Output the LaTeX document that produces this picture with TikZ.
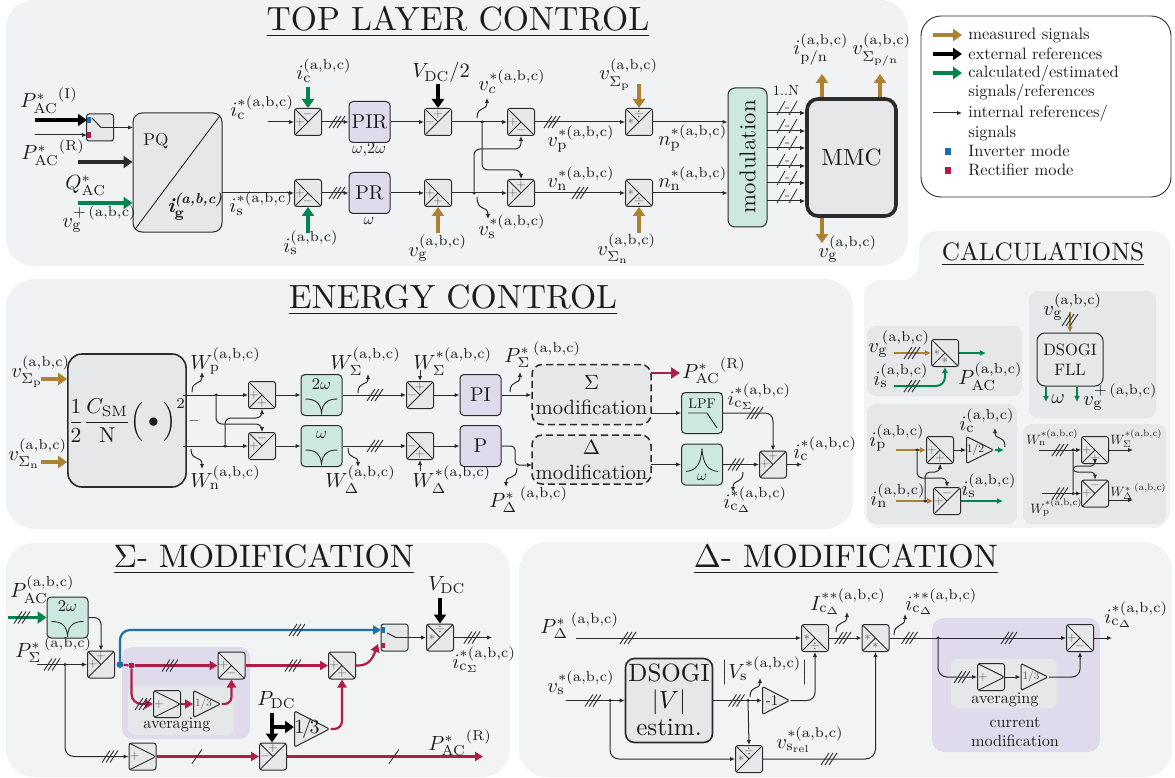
\documentclass[tikz,border=0pt]{standalone}
\usepackage{amsmath}
\usetikzlibrary{arrows.meta,shapes.geometric}

\definecolor{panelcol}{HTML}{F1F2F4}
\definecolor{panelbcol}{HTML}{F2F4F4}
\definecolor{blockcol}{HTML}{E6E7E8}
\definecolor{filtcol}{HTML}{CDE8E0}
\definecolor{ctrlcol}{HTML}{E0DBEC}
\definecolor{measgold}{HTML}{AE8131}
\definecolor{calcgreen}{HTML}{00854F}
\definecolor{rectred}{HTML}{B11C48}
\definecolor{invblue}{HTML}{1E6FA5}
\definecolor{inkcol}{HTML}{2B2B2B}
\definecolor{textcol}{HTML}{1C1C1C}

\newcommand{\abc}{(\mathrm{a,b,c})}
\newcommand{\rmm}[1]{\mathrm{#1}}

\tikzset{
  blk/.style={draw=inkcol,fill=blockcol,line width=1pt,rounded corners=2.5pt,inner sep=0pt,minimum size=27pt},
  sumup/.style={blk,path picture={\draw[inkcol,line width=.9pt] (path picture bounding box.south west)--(path picture bounding box.north east) (path picture bounding box.north west)--(path picture bounding box.center);}},
  sumdn/.style={blk,path picture={\draw[inkcol,line width=.9pt] (path picture bounding box.north west)--(path picture bounding box.south east) (path picture bounding box.south west)--(path picture bounding box.center);}},
  avgblk/.style={blk,path picture={\draw[inkcol,line width=.9pt] (path picture bounding box.north west)--(path picture bounding box.east)--(path picture bounding box.south west);}},
  sign/.style={inner sep=0pt,text=black!65,scale=1.25},
  blktxt/.style={inner sep=0pt,text=textcol,scale=#1},
  ctrl/.style={draw=inkcol,fill=ctrlcol,line width=1pt,rounded corners=4pt,minimum size=41pt,inner sep=0pt,text=textcol},
  filt/.style={draw=inkcol,fill=filtcol,line width=1pt,rounded corners=4pt,minimum size=41pt,inner sep=0pt},
  gain/.style={draw=inkcol,fill=blockcol,line width=1pt,isosceles triangle,isosceles triangle apex angle=50,isosceles triangle stretches,inner sep=0pt,minimum width=27pt,minimum height=27pt,rounded corners=1.5pt,anchor=west},
  modblk/.style={draw=inkcol,fill=blockcol,dashed,dash pattern=on 7pt off 4pt,line width=1.5pt,rounded corners=10pt,inner sep=0pt,align=center},
  wire/.style={draw=inkcol,line width=1pt,-{Latex[length=5pt,width=4.5pt]}},
  plainwire/.style={draw=inkcol,line width=1pt},
  meas/.style={draw=measgold,line width=3.4pt,-{Triangle[length=9pt,width=12pt]}},
  extr/.style={draw=black,line width=3.4pt,-{Triangle[length=9pt,width=12pt]}},
  extg/.style={draw=inkcol,line width=3.4pt,-{Triangle[length=9pt,width=12pt]}},
  calc/.style={draw=calcgreen,line width=3.4pt,-{Triangle[length=9pt,width=12pt]}},
  measthin/.style={draw=measgold,line width=2pt,-{Latex[length=6pt,width=6pt]}},
  calcthin/.style={draw=calcgreen,line width=2pt,-{Latex[length=6pt,width=6pt]}},
  redwire/.style={draw=rectred,line width=2.2pt,-{Triangle[length=8pt,width=9pt]}},
  bluewire/.style={draw=invblue,line width=2.2pt,-{Triangle[length=8pt,width=9pt]}},
  dot/.style={circle,fill=inkcol,inner sep=0pt,minimum size=3.5pt},
  lab/.style={anchor=base west,inner sep=0pt,text=textcol,scale=2.05},
  labs/.style={lab,scale=.66},
  capt/.style={inner sep=0pt,text=textcol,scale=1.62,align=center},
  title/.style={inner sep=0pt,text=textcol,scale=3.36},
  titles/.style={inner sep=0pt,text=textcol,scale=2.52},
  legtxt/.style={anchor=west,inner sep=0pt,text=textcol,scale=1.65},
  pics/three/.style={code={\draw[inkcol,line width=.9pt] (-8,6)--(0,-6) (-4,6)--(4,-6) (0,6)--(8,-6);}},
  pics/one/.style={code={\draw[inkcol,line width=.9pt] (-5,7)--(5,-7);}},
  pics/npwm/.style={code={\draw[inkcol,line width=.8pt] (-10,2)--(-2,-12) (2,2)--(10,-12) (-2,-5)--(2,-5);}},
  pics/notch/.style={code={\draw[inkcol,line width=.9pt] (-16,4) .. controls (-6,4) and (-1,8) .. (0,18) .. controls (1,8) and (6,4) .. (16,4);}},
  pics/peak/.style={code={\draw[inkcol,line width=.9pt] (-16,7) .. controls (-6,6) and (-1,0) .. (0,-16) .. controls (1,0) and (6,6) .. (16,7);}},
}

% summing blocks: name, position, left sign, other sign
\newcommand{\sumU}[4]{\node[sumup] (#1) at (#2) {};
  \node[sign] (#1l) at ([xshift=-8pt]#1.center) {#3};
  \node[sign] (#1o) at ([yshift=8pt]#1.center) {#4};}
\newcommand{\sumD}[4]{\node[sumdn] (#1) at (#2) {};
  \node[sign] (#1l) at ([xshift=-8pt]#1.center) {#3};
  \node[sign] (#1o) at ([yshift=-8pt]#1.center) {#4};}

\begin{document}
\begin{tikzpicture}[x=1pt,y=-1pt]

    \useasboundingbox (0,0) rectangle (1175,778);

    % panels
    \fill[panelcol,rounded corners=28pt] (6,0) rectangle (908,266);
    \fill[panelcol,rounded corners=28pt] (6,279) rectangle (853,529);
    \fill[panelbcol,rounded corners=17pt] (864,528) -- (864,280) -- (919,280) -- (919,231) -- (1170,231) -- (1170,528) -- cycle;
    \fill[panelbcol,rounded corners=28pt] (6,543) rectangle (510,777);
    \fill[panelbcol,rounded corners=28pt] (519,542) rectangle (1172,777);
    \fill[blockcol,rounded corners=9pt] (867,326) rectangle (1022,396);
    \fill[blockcol,rounded corners=9pt] (1029,291) rectangle (1156,418);
    \fill[blockcol,rounded corners=9pt] (867,404) rectangle (1017,524);
    \fill[blockcol,rounded corners=9pt] (1023,424) rectangle (1166,524);
    \fill[ctrlcol,rounded corners=10pt] (122,647) rectangle (250,739);
    \fill[blockcol,rounded corners=6pt] (128,686) rectangle (234,735);
    \fill[ctrlcol,rounded corners=12pt] (932,618) rectangle (1100,752);
    \fill[blockcol,rounded corners=6pt] (951,659) rectangle (1057,708);

    % titles
    \node[title] (toptitle) at (458,22) {\underline{TOP LAYER CONTROL}};
    \node[title] (engtitle) at (453,300) {\underline{ENERGY CONTROL}};
    \node[titles] (calctitle) at (1043,254) {\underline{CALCULATIONS}};
    \node[title,scale=.97] (sigtitle) at (264,559) {\underline{$\Sigma$- MODIFICATION}};
    \node[title,scale=.97] (deltitle) at (846,559) {\underline{$\Delta$- MODIFICATION}};

    %%%%%%%%%%%%%%%%%%%%%%%%%%%%%%%%%%%%%%%%%%%%%%%%%%%%%%

    % legend
    \draw[inkcol,line width=.9pt,fill=white,rounded corners=20pt] (921,16) rectangle (1171,197);
    \coordinate (lega) at (933,35); \coordinate (legaa) at (962,35);
    \coordinate (legb) at (933,54); \coordinate (legbb) at (962,54);
    \coordinate (legc) at (933,73); \coordinate (legcc) at (962,73);
    \coordinate (legd) at (933,113); \coordinate (legdd) at (962,113);
    \draw[meas] (lega) -- (legaa);
    \draw[extr] (legb) -- (legbb);
    \draw[calc] (legc) -- (legcc);
    \draw[wire] (legd) -- (legdd);
    \node[legtxt] (legt1) at (968,35) {measured signals};
    \node[legtxt] (legt2) at (968,54) {external references};
    \node[legtxt] (legt3) at (968,73) {calculated/estimated};
    \node[legtxt] (legt4) at (968,92) {signals/references};
    \node[legtxt] (legt5) at (968,113) {internal references/};
    \node[legtxt] (legt6) at (968,133) {signals};
    \node[legtxt] (legt7) at (968,151) {Inverter mode};
    \node[legtxt] (legt8) at (968,170) {Rectifier mode};
    \fill[invblue] (945,148) rectangle (951,155);
    \fill[rectred] (945,167) rectangle (951,174);

    %%%%%%%%%%%%%%%%%%%%%%%%%%%%%%%%%%%%%%%%%%%%%%%%%%%%%%

    % mode switch
    \node[blk] (sw) at (100,127.5) {};
    \fill[invblue] (87,117) rectangle (91,123);
    \fill[rectred] (87,132) rectangle (91,138);
    \draw[plainwire] (92,118) -- (101,127.5);
    \coordinate (swin) at (101,127.5);
    \coordinate (pacia) at (35,120); \coordinate (paciz) at (87,120);
    \coordinate (pacra) at (35,135); \coordinate (pacrz) at (87,135);
    \draw[extr] (pacia) -- (paciz);
    \draw[wire] (pacra) -- (pacrz);
    \node[lab] (paci) at (20,108) {${P_{\rmm{AC}}^{*}}^{(\rmm{I})}$};
    \node[lab] (pacr) at (21,160) {${P_{\rmm{AC}}^{*}}^{(\rmm{R})}$};

    % power to current references
    \node[draw=inkcol,fill=blockcol,line width=1pt,rounded corners=9pt,minimum width=89pt,minimum height=119pt,inner sep=0pt,
      path picture={\draw[inkcol,line width=.9pt] (path picture bounding box.south west)--(path picture bounding box.north east);}] (pq) at (177.5,172.5) {};
    \node[lab,scale=.84] (pqt) at (143,146) {PQ};
    \node[lab,font=\bfseries\itshape] (ig) at (167,212) {$\mbox{i}_{\mathbf{g}}^{\mbox{\fontsize{7}{7}\selectfont (a,b,c)}}$};
    \draw[wire] (swin) -- (133,127.5) coordinate (pqin);
    \coordinate (qa) at (78,162); \coordinate (va) at (78,203);
    \draw[extg] (qa) -- (qa -| pq.west);
    \draw[calc] (va) -- (va -| pq.west);
    \node[lab] (qac) at (65,190) {$Q_{\rmm{AC}}^{*}$};
    \node[lab] (vgp) at (62,227) {$v_{\rmm{g}}^{+\,\abc}$};

    % current loops
    \sumU{sc}{308,122}{$+$}{$-$}
    \sumD{ss}{308,193}{$+$}{$-$}
    \coordinate (icin) at (268,122);
    \coordinate (isin) at (222,193);
    \draw[wire] (icin) -- (sc.west);
    \draw[wire] (isin) -- (ss.west);
    \node[lab] (icst) at (230,117) {$i_{\rmm{c}}^{*\abc}$};
    \node[lab] (isst) at (229,213) {$i_{\rmm{s}}^{*\abc}$};
    \coordinate (icm) at (308,87); \coordinate (ism) at (308,233);
    \draw[calc] (icm) -- (sc.north);
    \draw[calc] (ism) -- (ss.south);
    \node[lab] (icl) at (296,80) {$i_{\rmm{c}}^{\abc}$};
    \node[lab] (isl) at (283,252) {$i_{\rmm{s}}^{\abc}$};
    \node[ctrl] (pir) at (369.5,122) {\scalebox{2}{PIR}};
    \node[ctrl] (pr) at (369.5,193) {\scalebox{2}{PR}};
    \node[capt] (pirt) at (369,150) {$\omega$,2$\omega$};
    \node[capt] (prt) at (369,221) {$\omega$};
    \draw[wire] (sc.east) -- (pir.west);
    \draw[wire] (ss.east) -- (pr.west);
    \pic at (337,122) {three};
    \pic at (337,193) {three};

    % feed forward
    \sumU{fc}{438,122}{$-$}{$+$}
    \sumD{fs}{438,193}{$+$}{$+$}
    \draw[wire] (pir.east) -- (fc.west);
    \draw[wire] (pr.east) -- (fs.west);
    \coordinate (vdc2) at (438,84); \coordinate (vgm) at (438,233);
    \draw[extr] (vdc2) -- (fc.north);
    \draw[meas] (vgm) -- (fs.south);
    \node[lab] (vdcl) at (412,78) {$V_{\rmm{DC}}/2$};
    \node[lab] (vgl) at (408,256) {$v_{\rmm{g}}^{\abc}$};

    % arm voltages
    \sumD{vp}{521,122}{$+$}{$-$}
    \sumU{vn}{521,193}{$+$}{$+$}
    \draw[wire] (fc.east) -- (vp.west);
    \draw[wire] (fs.east) -- (vn.west);
    \node[dot] (ja) at (482,122) {};
    \node[dot] (jb) at (474,193) {};
    \coordinate (kb) at (474,149);
    \coordinate (ka) at (482,170);
    \draw[wire,rounded corners=6pt] (ja) -- (ka) -| (vn.north);
    \draw[wire,rounded corners=6pt] (jb) -- (kb) -| (vp.south);
    \coordinate (vcta) at (477,118); \coordinate (vctb) at (487,98);
    \coordinate (vsta) at (477,197); \coordinate (vstb) at (488,219);
    \draw[wire] (vcta) .. controls (477,105) and (487,112) .. (vctb);
    \draw[wire] (vsta) .. controls (477,212) and (488,205) .. (vstb);
    \node[lab] (vcst) at (478,91) {$v_{c}^{*\abc}$};
    \node[lab] (vsst) at (478,236) {$v_{\rmm{s}}^{*\abc}$};

    % insertion indices
    \sumU{np}{639,122}{$*$}{$\div$}
    \sumD{nn}{639,193}{$*$}{$\div$}
    \draw[wire] (vp.east) -- (np.west);
    \draw[wire] (vn.east) -- (nn.west);
    \pic at (552,122) {three};
    \pic at (580,193) {three};
    \coordinate (vsp) at (639,84); \coordinate (vsn) at (639,233);
    \draw[meas] (vsp) -- (np.north);
    \draw[meas] (vsn) -- (nn.south);
    \node[lab] (vspl) at (599,80) {$v_{\Sigma_{\rmm{p}}}^{\abc}$};
    \node[lab] (vsnl) at (597,255) {$v_{\Sigma_{\rmm{n}}}^{\abc}$};
    \node[lab] (vpst) at (547,147) {$v_{\rmm{p}}^{*\abc}$};
    \node[lab] (vnst) at (547,188) {$v_{\rmm{n}}^{*\abc}$};
    \node[lab] (npst) at (658,146) {$n_{\rmm{p}}^{*\abc}$};
    \node[lab] (nnst) at (658,188) {$n_{\rmm{n}}^{*\abc}$};

    % modulation
    \node[draw=inkcol,fill=filtcol,line width=1pt,rounded corners=7pt,minimum width=39pt,minimum height=139pt,inner sep=0pt] (mod) at (747.5,157.5) {};
    \node[rotate=90,blktxt=2.28] (modt) at (747.5,157) {modulation};
    \draw[wire] (np.east) -- (np.east -| mod.west);
    \draw[wire] (nn.east) -- (nn.east -| mod.west);

    % converter
    \node[draw=inkcol,fill=blockcol,line width=3.6pt,rounded corners=11pt,minimum width=89pt,minimum height=117pt,inner sep=0pt,text=textcol] (mmc) at (851.5,157.5) {\scalebox{2.35}{MMC}};
    \node[blktxt=1.45] (oneN) at (786,91) {1..N};
    \coordinate (mo1) at (767,113);
    \coordinate (mo2) at (767,131);
    \coordinate (mo3) at (767,148);
    \coordinate (mo4) at (767,166);
    \coordinate (mo5) at (767,183);
    \coordinate (mo6) at (767,201);
    \draw[wire] (mo1) -- (mo1 -| mmc.west); \pic at (787,113) {npwm};
    \draw[wire] (mo2) -- (mo2 -| mmc.west); \pic at (787,131) {npwm};
    \draw[wire] (mo3) -- (mo3 -| mmc.west); \pic at (787,148) {npwm};
    \draw[wire] (mo4) -- (mo4 -| mmc.west); \pic at (787,166) {npwm};
    \draw[wire] (mo5) -- (mo5 -| mmc.west); \pic at (787,183) {npwm};
    \draw[wire] (mo6) -- (mo6 -| mmc.west); \pic at (787,201) {npwm};
    \coordinate (outa) at (822,74); \coordinate (outb) at (880,74); \coordinate (outc) at (822,243);
    \draw[meas] (outa |- mmc.north) -- (outa);
    \draw[meas] (outb |- mmc.north) -- (outb);
    \draw[meas] (outc |- mmc.south) -- (outc);
    \node[lab] (ipnl) at (793,55) {$i_{\rmm{p/n}}^{\abc}$};
    \node[lab] (vspnl) at (852,55) {$v_{\Sigma_{\rmm{p/n}}}^{\abc}$};
    \node[lab] (vgr) at (818,257) {$v_{\rmm{g}}^{\abc}$};

    %%%%%%%%%%%%%%%%%%%%%%%%%%%%%%%%%%%%%%%%%%%%%%%%%%%%%%

    % arm energies
    \node[draw=inkcol,fill=blockcol,line width=1.6pt,rounded corners=14pt,minimum width=112pt,minimum height=133pt,inner sep=0pt,text=textcol] (wcalc) at (127,420.5) {\scalebox{2.15}{$\dfrac{1}{2}\dfrac{C_{\rmm{SM}}}{\rmm{N}}\Big(\bullet\Big)^{2}$}};
    \coordinate (evp) at (41,379); \coordinate (evn) at (41,462);
    \draw[meas] (evp) -- (evp -| wcalc.west);
    \draw[meas] (evn) -- (evn -| wcalc.west);
    \node[lab] (evpl) at (11,377) {$v_{\Sigma_{\rmm{p}}}^{\abc}$};
    \node[lab] (evnl) at (8,460) {$v_{\Sigma_{\rmm{n}}}^{\abc}$};

    % sum and difference of energies
    \sumD{wa}{262,395}{$+$}{$+$}
    \sumU{wb}{262,446}{$+$}{$-$}
    \coordinate (wpout) at (183,395); \coordinate (wnout) at (183,446);
    \draw[wire] (wpout) -- (wa.west);
    \draw[wire] (wnout) -- (wb.west);
    \node[dot] (jc) at (216,395) {};
    \node[dot] (jd) at (225,446) {};
    \coordinate (kc) at (216,424);
    \coordinate (kd) at (225,418);
    \draw[wire,rounded corners=6pt] (jc) -- (kc) -| (wb.north);
    \draw[wire,rounded corners=6pt] (jd) -- (kd) -| (wa.south);
    \node[lab,scale=.7] (wminus) at (188,424) {$-$};
    \coordinate (wpa) at (192,392); \coordinate (wpb) at (202,372);
    \coordinate (wna) at (191,449); \coordinate (wnb) at (202,469);
    \draw[wire] (wpa) .. controls (192,379) and (202,386) .. (wpb);
    \draw[wire] (wna) .. controls (191,462) and (202,455) .. (wnb);
    \node[lab] (wpl) at (190,369) {$W_{\rmm{p}}^{\abc}$};
    \node[lab] (wnl) at (190,487) {$W_{\rmm{n}}^{\abc}$};

    % energy filters
    \node[filt] (ftwo) at (321.5,395) {};
    \node[filt] (fone) at (321.5,446) {};
    \pic at (321.5,395) {notch};
    \pic at (321.5,446) {notch};
    \node[blktxt=1.65] (ftwot) at (321.5,384) {2$\omega$};
    \node[blktxt=1.65] (fonet) at (321.5,435) {$\omega$};
    \draw[wire] (wa.east) -- (ftwo.west);
    \draw[wire] (wb.east) -- (fone.west);

    % energy controllers
    \sumU{ea}{420,395}{$-$}{$+$}
    \sumD{eb}{420,446}{$-$}{$+$}
    \draw[wire] (ftwo.east) -- (ea.west);
    \draw[wire] (fone.east) -- (eb.west);
    \pic at (375,395) {three};
    \pic at (375,446) {three};
    \coordinate (wsa) at (358,393); \coordinate (wsb) at (368,374);
    \coordinate (wda) at (348,448); \coordinate (wdb) at (358,467);
    \draw[wire] (wsa) .. controls (358,380) and (368,387) .. (wsb);
    \draw[wire] (wda) .. controls (348,461) and (358,454) .. (wdb);
    \node[lab] (wsl) at (330,369) {$W_{\Sigma}^{\abc}$};
    \node[lab] (wdl) at (325,487) {$W_{\Delta}^{\abc}$};
    \coordinate (wsr) at (420,370); \coordinate (wdr) at (420,471);
    \draw[wire] (wsr) -- (ea.north);
    \draw[wire] (wdr) -- (eb.south);
    \node[lab] (wsrl) at (413,369) {$W_{\Sigma}^{*\abc}$};
    \node[lab] (wdrl) at (412,487) {$W_{\Delta}^{*\abc}$};
    \node[ctrl] (pi) at (480.5,395) {\scalebox{2}{PI}};
    \node[ctrl] (pp) at (480.5,446) {\scalebox{2}{P}};
    \draw[wire] (ea.east) -- (pi.west);
    \draw[wire] (eb.east) -- (pp.west);

    % modification blocks
    \node[modblk,minimum width=119pt,minimum height=60pt] (smod) at (591.5,394.5) {};
    \node[modblk,minimum width=119pt,minimum height=49pt] (dmod) at (591.5,459.5) {};
    \node[blktxt=2.06,align=center] (smodt) at (591.5,395) {$\Sigma$\\modification};
    \node[blktxt=2.06,align=center] (dmodt) at (591.5,460) {$\Delta$\\modification};
    \draw[wire] (pi.east) -- (pi.east -| smod.west);
    \coordinate (dmin) at (532,465);
    \draw[wire,rounded corners=4pt] (pp.east) -- (515,446) |- (dmin);
    \coordinate (psa) at (510,392); \coordinate (psb) at (520,372);
    \coordinate (pda) at (517,468); \coordinate (pdb) at (506,487);
    \draw[wire] (psa) .. controls (510,379) and (520,386) .. (psb);
    \draw[wire] (pda) .. controls (517,481) and (506,474) .. (pdb);
    \node[lab] (psl) at (504,362) {${P_{\Sigma}^{*}}^{\,\abc}$};
    \node[lab] (pdl) at (489,507) {${P_{\Delta}^{*}}^{\,\abc}$};

    % circulating current references
    \coordinate (smr) at (651,373); \coordinate (smrz) at (680,373);
    \draw[redwire,line width=2.4pt,-{Triangle[length=9pt,width=11pt]}] (smr) -- (smrz);
    \node[lab] (pacrr) at (682,378) {${P_{\rmm{AC}}^{*}}^{(\rmm{R})}$};
    \node[filt] (lpf) at (702,413) {};
    \node[filt] (fres) at (702,464.5) {};
    \node[blktxt=1.4] (lpft) at (702,404) {LPF};
    \draw[inkcol,line width=.9pt] (688,413) -- (707,413) -- (717,428);
    \pic at (702,464.5) {peak};
    \node[blktxt=1.5] (frest) at (702,477) {$\omega$};
    \coordinate (smout) at (651,413); \coordinate (dmout) at (651,464.5);
    \draw[wire] (smout) -- (lpf.west);
    \draw[wire] (dmout) -- (fres.west);
    \sumU{cc}{773,464.5}{$+$}{$+$}
    \draw[wire,rounded corners=8pt] (lpf.east) -| (cc.north);
    \draw[wire] (fres.east) -- (cc.west);
    \pic at (755,413) {three};
    \pic at (736,464.5) {three};
    \coordinate (ica) at (743,472); \coordinate (icb) at (733,492);
    \draw[wire] (ica) .. controls (743,485) and (733,478) .. (icb);
    \coordinate (icout) at (802,464.5);
    \draw[wire] (cc.east) -- (icout);
    \node[lab] (icsl) at (727,405) {$i_{\rmm{c}_\Sigma}^{*\abc}$};
    \node[lab] (icdl) at (723,508) {$i_{\rmm{c}_\Delta}^{*\abc}$};
    \node[lab] (iccl) at (793,458) {$i_{\rmm{c}}^{*\abc}$};

    %%%%%%%%%%%%%%%%%%%%%%%%%%%%%%%%%%%%%%%%%%%%%%%%%%%%%%

    % AC power calculation
    \sumD{cp}{945,353}{$*$}{$*$}
    \coordinate (cva) at (894,353); \coordinate (cia) at (894,386); \coordinate (cpo) at (986,353);
    \draw[measthin] (cva) -- (cp.west);
    \draw[calcthin,rounded corners=9pt] (cia) -| (cp.south);
    \draw[calcthin] (cp.east) -- (cpo);
    \pic at (912,353) {three};
    \pic at (912,386) {three};
    \node[lab] (cvl) at (868,352) {$v_{\rmm{g}}^{\,\abc}$};
    \node[lab] (cil) at (873,385) {$i_{\rmm{s}}^{\abc}$};
    \node[lab] (cpl) at (958,384) {$P_{\rmm{AC}}^{\abc}$};

    % grid synchronisation
    \node[draw=inkcol,fill=blockcol,line width=1pt,rounded corners=8pt,minimum width=66pt,minimum height=53pt,inner sep=0pt] (fll) at (1070,359.5) {};
    \node[blktxt=1.65,align=center] (fllt) at (1070,360) {DSOGI\\FLL};
    \coordinate (fv) at (1070,312); \coordinate (fw) at (1046,402); \coordinate (fvo) at (1077,402);
    \draw[measthin] (fv) -- (fll.north);
    \pic at (1070,320) {three};
    \draw[calcthin] (fw |- fll.south) -- (fw);
    \draw[calcthin] (fvo |- fll.south) -- (fvo);
    \node[lab] (fvl) at (1043,315) {$v_{\rmm{g}}^{\abc}$};
    \node[lab] (fwl) at (1051,403) {$\omega$};
    \node[lab] (fvol) at (1083,405) {$v_{\rmm{g}}^{+\,\abc}$};

    % current decomposition
    \sumD{ca}{940,450}{$+$}{$+$}
    \sumU{cb}{947,501}{$+$}{$-$}
    \coordinate (cip) at (896,450); \coordinate (cin) at (896,501);
    \draw[measthin] (cip) -- (ca.west);
    \draw[measthin] (cin) -- (cb.west);
    \node[dot] (je) at (917,450) {};
    \node[dot] (jf) at (925,501) {};
    \coordinate (ke) at (917,478);
    \coordinate (kf) at (925,472);
    \draw[wire,rounded corners=5pt] (je) -- (ke) -| (cb.north);
    \draw[wire,rounded corners=5pt] (jf) -- (kf) -| (ca.south);
    \node[gain] (half) at (966,450) {};
    \node[blktxt=1.15] (halft) at (975.5,450) {1/2};
    \draw[wire] (ca.east) -- (half.west);
    \coordinate (halfo) at (1004,450); \coordinate (csa) at (1005,447); \coordinate (csb) at (995,428);
    \draw[calcthin] (half.east) -- (halfo);
    \draw[wire] (csa) .. controls (1005,434) and (995,441) .. (csb);
    \coordinate (cso) at (1003,501);
    \draw[calcthin] (cb.east) -- (cso);
    \node[lab] (ipl) at (869,446) {$i_{\rmm{p}}^{\abc}$};
    \node[lab] (inl) at (870,505) {$i_{\rmm{n}}^{\abc}$};
    \node[lab] (icll) at (959,430) {$i_{\rmm{c}}^{\abc}$};
    \node[lab] (isll) at (961,495) {$i_{\rmm{s}}^{\abc}$};

    % energy references
    \sumD{da}{1095,450}{$+$}{$+$}
    \sumU{db}{1095,493.5}{$+$}{$-$}
    \coordinate (dwn) at (1039,450); \coordinate (dwp) at (1042,493.5);
    \draw[wire] (dwn) -- (da.west);
    \draw[wire] (dwp) -- (db.west);
    \pic at (1060,450) {three};
    \pic at (1060,493.5) {three};
    \node[dot] (jg) at (1073,450) {};
    \node[dot] (jh) at (1073,493.5) {};
    \coordinate (kg) at (1073,472);
    \coordinate (kh) at (1073,466);
    \draw[wire,rounded corners=4pt] (jg) -- (kg) -| (db.north);
    \draw[wire,rounded corners=4pt] (jh) -- (kh) -| (da.south);
    \coordinate (dso) at (1133,450); \coordinate (ddo) at (1133,500);
    \draw[wire] (da.east) -- (dso);
    \draw[wire] (db.east |- ddo) -- (ddo);
    \node[labs] (dwnl) at (1026,444) {$W_{\rmm{n}}^{*\abc}$};
    \node[labs] (dwpl) at (1030,513) {$W_{\rmm{p}}^{*\abc}$};
    \node[labs] (dsl) at (1110,444) {$W_{\Sigma}^{*\abc}$};
    \node[labs] (ddl) at (1110,496) {${W_{\Delta}^{*}}^{\,\abc}$};

    %%%%%%%%%%%%%%%%%%%%%%%%%%%%%%%%%%%%%%%%%%%%%%%%%%%%%%

    % filtered power plus energy reference
    \node[filt] (sf) at (67.5,617.5) {};
    \pic at (67.5,617.5) {notch};
    \node[blktxt=1.65] (sft) at (67.5,606) {2$\omega$};
    \coordinate (spac) at (8,617.5);
    \draw[calc] (spac) -- (sf.west);
    \pic at (22,617.5) {three};
    \node[lab] (spacl) at (10,597) {$P_{\rmm{AC}}^{\abc}$};
    \sumU{sa}{101,664.5}{$+$}{$+$}
    \draw[wire,rounded corners=7pt] (sf.east) -| (sa.north);
    \coordinate (spsig) at (37,664.5);
    \draw[wire] (spsig) -- (sa.west);
    \pic at (52,664.5) {three};
    \node[dot] (ji) at (65,664.5) {};
    \node[lab] (spsl) at (15,657) {${P_{\Sigma}^{*}}^{\,\abc}$};

    % inverter branch
    \node[blk] (ssw) at (394.5,637.5) {};
    \fill[invblue] (381,627) rectangle (385,633);
    \fill[rectred] (381,643) rectangle (385,648);
    \draw[plainwire] (387,633) -- (396,637.5);
    \coordinate (sswo) at (396,637.5);
    \node[circle,fill=invblue,inner sep=0pt,minimum size=7pt] (jblue) at (120,664.5) {};
    \coordinate (kblue) at (381,630);
    \draw[bluewire,rounded corners=10pt] (jblue) |- (kblue);
    \pic at (297,630) {three};

    % rectifier branch
    \sumD{sb}{231.5,665.5}{$+$}{$-$}
    \sumD{sc2}{342,665.5}{$+$}{$+$}
    \node[circle,fill=rectred,inner sep=0pt,minimum size=6pt] (jred) at (131.5,665.5) {};
    \draw[redwire] (jred) -- (sb.west);
    \draw[draw=rectred,line width=2.2pt] (jblue) -- (jred);
    \draw[redwire] (sb.east) -- (sc2.west);
    \pic at (170,665.5) {three};
    \pic at (293,665.5) {three};
    \coordinate (redin) at (378,644);
    \draw[redwire] (sc2.east) .. controls (368,666) and (372,660) .. (redin);

    % averaging
    \node[avgblk] (sav) at (167,704) {};
    \node[sign] (savt) at (159,704) {$+$};
    \node[gain] (sg) at (193,704) {};
    \node[sign,scale=.9] (sgt) at (203.5,704) {1/3};
    \draw[redwire,rounded corners=10pt] (jred) |- (sav.west);
    \pic at (143,704) {three};
    \draw[redwire] (sav.east) -- (sg.west);
    \draw[redwire,rounded corners=7pt] (sg.east) -| (sb.south);
    \node[capt] (savl) at (177,725) {averaging};

    % DC power share
    \sumU{sd}{273,756.5}{$-$}{$+$}
    \node[gain,minimum width=36pt,minimum height=35pt] (sth) at (294,729) {};
    \node[blktxt=2] (stht) at (307,728) {1\hspace{-.12em}/\hspace{-.12em}3};
    \coordinate (pdc) at (272,713);
    \coordinate (pdcj) at (272,727);
    \draw[extr] (pdc) -- (sd.north -| pdc);
    \draw[extr] (pdcj) -- (pdcj -| sth.west);
    \node[lab] (pdcl) at (257,705) {$P_{\rmm{DC}}$};
    \draw[redwire,rounded corners=8pt] (sth.east) -| (sc2.south);
    \node[avgblk] (se) at (142.5,756.5) {};
    \node[sign] (set) at (134.5,756.5) {$+$};
    \draw[wire,rounded corners=9pt] (ji) |- (se.west);
    \pic at (110,756.5) {three};
    \draw[redwire] (se.east) -- (sd.west);
    \pic at (197,756.5) {one};
    \coordinate (spout) at (483,756.5);
    \draw[redwire] (sd.east) -- (spout);
    \pic at (394,756.5) {one};
    \node[lab] (spoutl) at (428,750) {${P_{\rmm{AC}}^{*}}^{(\rmm{R})}$};

    % sigma output
    \sumU{sf2}{440,637.5}{$*$}{$\div$}
    \draw[wire] (sswo) -- (sf2.west);
    \coordinate (svdc) at (440,598);
    \draw[extr] (svdc) -- (sf2.north);
    \node[lab] (svdcl) at (428,590) {$V_{\rmm{DC}}$};
    \coordinate (sout) at (492,637.5);
    \draw[wire] (sf2.east) -- (sout);
    \pic at (472,637.5) {three};
    \node[lab] (soutl) at (452,668) {$i_{\rmm{c}_\Sigma}^{*\abc}$};

    %%%%%%%%%%%%%%%%%%%%%%%%%%%%%%%%%%%%%%%%%%%%%%%%%%%%%%

    % delta divider
    \sumD{za}{815,638}{$*$}{$\div$}
    \sumD{zb}{875.5,638}{$*$}{$*$}
    \sumD{zc}{1080,638}{$+$}{$-$}
    \coordinate (zp) at (576,638);
    \draw[wire] (zp) -- (za.west);
    \pic at (628,638) {three};
    \node[lab] (zpl) at (540,633) {${P_{\Delta}^{*}}^{\,\abc}$};
    \draw[wire] (za.east) -- (zb.west);
    \pic at (843,638) {three};
    \draw[wire] (zb.east) -- (zc.west);
    \pic at (909.5,638) {three};
    \pic at (1009,638) {three};
    \coordinate (zo) at (1112,638);
    \draw[wire] (zc.east) -- (zo);
    \coordinate (zia) at (836,632); \coordinate (zib) at (847,612);
    \coordinate (zja) at (894,635); \coordinate (zjb) at (905,614);
    \draw[wire] (zia) .. controls (836,619) and (847,626) .. (zib);
    \draw[wire] (zja) .. controls (894,622) and (905,628) .. (zjb);
    \node[lab] (zil) at (810,610) {$I_{\rmm{c}_\Delta}^{**\abc}$};
    \node[lab] (zjl) at (905,610) {$i_{\rmm{c}_\Delta}^{**\abc}$};
    \node[lab] (zol) at (1104,623) {$i_{\rmm{c}_\Delta}^{*\abc}$};

    % delta averaging
    \node[dot] (jz) at (938,638) {};
    \node[avgblk] (zav) at (991,677) {};
    \node[sign] (zavt) at (983,677) {$+$};
    \node[gain] (zg) at (1020.5,677) {};
    \node[sign,scale=.9] (zgt) at (1031,677) {1/3};
    \draw[wire,rounded corners=9pt] (jz) |- (zav.west);
    \pic at (962,677) {three};
    \draw[wire] (zav.east) -- (zg.west);
    \draw[wire,rounded corners=8pt] (zg.east) -| (zc.south);
    \node[capt] (zavl) at (1005,700) {averaging};
    \node[capt] (zcur) at (1015,732) {current\\modification};

    % delta voltage estimation
    \node[draw=inkcol,fill=blockcol,line width=1.6pt,rounded corners=9pt,minimum width=87pt,minimum height=84pt,inner sep=0pt] (zest) at (669,700.5) {};
    \node[blktxt=2.5,align=center,font=\fontsize{10}{10.8}\selectfont] (zestt) at (669,700) {DSOGI\\$|V|$\\estim.};
    \coordinate (zv) at (566,700.5);
    \draw[wire] (zv) -- (zest.west);
    \pic at (593,700.5) {three};
    \node[dot] (jv) at (610,700.5) {};
    \node[lab] (zvl) at (547,692) {$v_{\rmm{s}}^{*\abc}$};
    \node[gain,minimum width=28pt] (zneg) at (762,700.5) {};
    \node[blktxt=1.5] (znegt) at (772,700.5) {-1};
    \draw[wire] (zest.east) -- (zneg.west);
    \pic at (736.5,700.5) {three};
    \node[dot] (jw) at (748,700.5) {};
    \draw[wire,rounded corners=8pt] (zneg.east) -| (za.south);
    \coordinate (zta) at (750,697); \coordinate (ztb) at (760,678);
    \draw[wire] (zta) .. controls (750,684) and (760,691) .. (ztb);
    \node[lab] (zvsl) at (721,678) {$\big|V_{\rmm{s}}^{*\abc}\big|$};

    % relative voltage
    \sumU{zd}{749,759}{$*$}{$\div$}
    \draw[wire] (jw) -- (zd.north);
    \draw[wire,rounded corners=9pt] (jv) |- (zd.west);
    \draw[wire,rounded corners=10pt] (zd.east) -| (zb.south);
    \pic at (829,759) {three};
    \node[lab] (zrel) at (776,748) {$v_{\rmm{s}_{\rmm{rel}}}^{*\abc}$};

\end{tikzpicture}
\end{document}
